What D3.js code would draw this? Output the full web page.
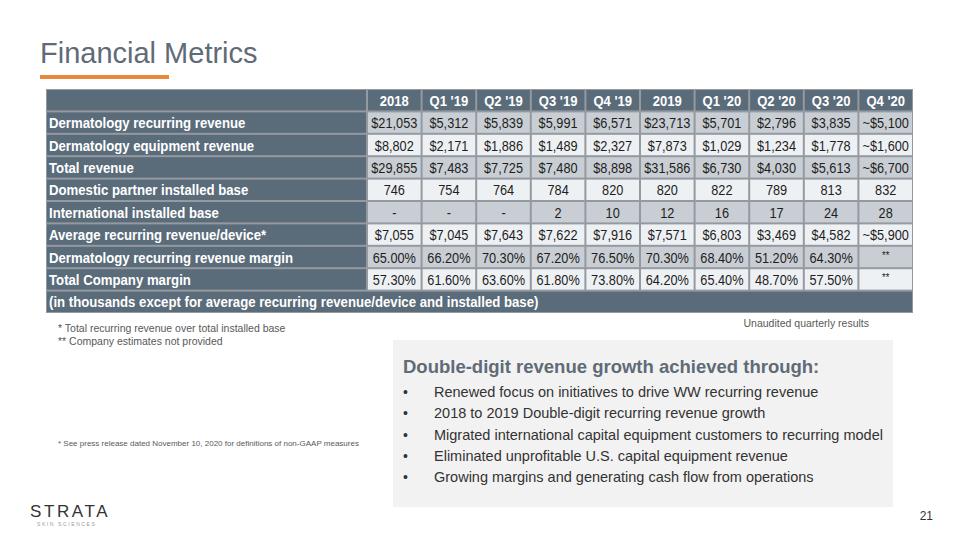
<!DOCTYPE html>
<html><head><meta charset="utf-8">
<script src="https://cdn.jsdelivr.net/npm/d3@7"></script>
<style>body{margin:0;background:#fff}svg{display:block}text{font-family:"Liberation Sans",Arial,sans-serif}</style>
</head><body>
<script>
const columns = ["2018","Q1 '19","Q2 '19","Q3 '19","Q4 '19","2019","Q1 '20","Q2 '20","Q3 '20","Q4 '20"];
const rowLabels = [
  "Dermatology recurring revenue",
  "Dermatology equipment revenue",
  "Total revenue",
  "Domestic partner installed base",
  "International installed base",
  "Average recurring revenue/device*",
  "Dermatology recurring revenue margin",
  "Total Company margin"
];
const recurringRevenue = ["$21,053","$5,312","$5,839","$5,991","$6,571","$23,713","$5,701","$2,796","$3,835","~$5,100"];
const equipmentRevenue = ["$8,802","$2,171","$1,886","$1,489","$2,327","$7,873","$1,029","$1,234","$1,778","~$1,600"];
const totalRevenue = ["$29,855","$7,483","$7,725","$7,480","$8,898","$31,586","$6,730","$4,030","$5,613","~$6,700"];
const domesticBase = ["746","754","764","784","820","820","822","789","813","832"];
const internationalBase = ["-","-","-","2","10","12","16","17","24","28"];
const avgRevenuePerDevice = ["$7,055","$7,045","$7,643","$7,622","$7,916","$7,571","$6,803","$3,469","$4,582","~$5,900"];
const recurringMargin = ["65.00%","66.20%","70.30%","67.20%","76.50%","70.30%","68.40%","51.20%","64.30%","**"];
const companyMargin = ["57.30%","61.60%","63.60%","61.80%","73.80%","64.20%","65.40%","48.70%","57.50%","**"];
const footerNote = "(in thousands except for average recurring revenue/device and installed base)";
const footnotes = ["* Total recurring revenue over total installed base","** Company estimates not provided"];
const bullets = [
  "Renewed focus on initiatives to drive WW recurring revenue",
  "2018 to 2019 Double-digit recurring revenue growth",
  "Migrated international capital equipment customers to recurring model",
  "Eliminated unprofitable U.S. capital equipment revenue",
  "Growing margins and generating cash flow from operations"
];
const tableRows = [recurringRevenue, equipmentRevenue, totalRevenue, domesticBase, internationalBase, avgRevenuePerDevice, recurringMargin, companyMargin];

const W = 960, H = 540;
const svg = d3.select("body").append("svg").attr("width", W).attr("height", H);

const DARK = "#5a6b7a", GRID = "#959aa0", LIGHT = "#c9ced4", PALE = "#eef1f4";

function narrowText(sel, cx, cy, sx) {
  return sel.attr("transform", `translate(${cx},${cy}) scale(${sx},1)`);
}

// title
svg.append("text").attr("x", 40).attr("y", 63).attr("font-size", 29).attr("fill", "#5f6b77").text("Financial Metrics");
svg.append("rect").attr("x", 40).attr("y", 75).attr("width", 129).attr("height", 4).attr("fill", "#e8893a");

// table scales
const tableLeft = 46, labelRight = 367, tableRight = 913, tableTop = 89, tableBottom = 313;
const rowKeys = d3.range(rowLabels.length + 2);
const y = d3.scaleBand().domain(rowKeys).range([tableTop, tableBottom]);
const x = d3.scaleBand().domain(columns).range([labelRight, tableRight]);
const g = 1;
const LBL_SX = 0.88, VAL_SX = 0.85;

svg.append("rect").attr("x", tableLeft).attr("y", tableTop).attr("width", tableRight - tableLeft).attr("height", tableBottom - tableTop).attr("fill", GRID);

// header row
svg.append("rect").attr("x", tableLeft + g).attr("y", y(0) + g).attr("width", labelRight - tableLeft - 2 * g).attr("height", y.bandwidth() - 2 * g).attr("fill", DARK);
svg.selectAll("rect.hdr").data(columns).join("rect").attr("class", "hdr")
  .attr("x", d => x(d) + g).attr("y", y(0) + g).attr("width", x.bandwidth() - 2 * g).attr("height", y.bandwidth() - 2 * g).attr("fill", DARK);
svg.selectAll("text.hdr").data(columns).join("text").attr("class", "hdr")
  .attr("transform", d => `translate(${x(d) + x.bandwidth() / 2},${y(0) + y.bandwidth() / 2 + 5.5}) scale(0.9,1)`)
  .attr("text-anchor", "middle").attr("font-size", 14.5).attr("font-weight", "bold").attr("fill", "#fff").text(d => d);

// data rows
tableRows.forEach((vals, i) => {
  const r = i + 1;
  svg.append("rect").attr("x", tableLeft + g).attr("y", y(r) + g).attr("width", labelRight - tableLeft - 2 * g).attr("height", y.bandwidth() - 2 * g).attr("fill", DARK);
  narrowText(svg.append("text"), 49, y(r) + y.bandwidth() / 2 + 5.5, LBL_SX)
    .attr("font-size", 15).attr("font-weight", "bold").attr("fill", "#fff").text(rowLabels[i]);
  const cells = columns.map((c, j) => ({c, v: vals[j]}));
  svg.selectAll("rect.r" + r).data(cells).join("rect").attr("class", "r" + r)
    .attr("x", d => x(d.c) + g).attr("y", y(r) + g).attr("width", x.bandwidth() - 2 * g).attr("height", y.bandwidth() - 2 * g)
    .attr("fill", i % 2 === 0 ? LIGHT : PALE);
  svg.selectAll("text.r" + r).data(cells).join("text").attr("class", "r" + r)
    .attr("transform", d => `translate(${x(d.c) + x.bandwidth() / 2},${y(r) + y.bandwidth() / 2 + (d.v === "**" ? 2 : 5.5)}) scale(${VAL_SX},1)`)
    .attr("text-anchor", "middle").attr("font-size", d => d.v === "**" ? 11 : 15).attr("fill", "#1e1e1e").text(d => d.v);
});

// footer row
const fr = rowLabels.length + 1;
svg.append("rect").attr("x", tableLeft + g).attr("y", y(fr) + g).attr("width", tableRight - tableLeft - 2 * g).attr("height", y.bandwidth() - 2 * g).attr("fill", DARK);
narrowText(svg.append("text"), 49, y(fr) + y.bandwidth() / 2 + 5.5, LBL_SX)
  .attr("font-size", 15).attr("font-weight", "bold").attr("fill", "#fff").text(footerNote);

// notes
svg.selectAll("text.fn").data(footnotes).join("text").attr("class", "fn")
  .attr("x", 58).attr("y", (d, i) => 332 + i * 13).attr("font-size", 10.5).attr("fill", "#595959").text(d => d);
svg.append("text").attr("x", 869).attr("y", 327).attr("text-anchor", "end").attr("font-size", 10.5).attr("fill", "#595959").text("Unaudited quarterly results");
svg.append("text").attr("x", 58).attr("y", 446).attr("font-size", 8).attr("fill", "#595959").text("* See press release dated November 10, 2020 for definitions of non-GAAP measures");

// callout box
svg.append("rect").attr("x", 393).attr("y", 340).attr("width", 500).attr("height", 167).attr("fill", "#f2f2f2");
svg.append("text").attr("x", 403).attr("y", 373).attr("font-size", 18.5).attr("font-weight", "bold").attr("fill", "#5f6b77").text("Double-digit revenue growth achieved through:");
const by = d3.scaleBand().domain(d3.range(bullets.length)).range([381, 488]);
svg.selectAll("text.bd").data(bullets).join("text").attr("class", "bd")
  .attr("x", 403).attr("y", (d, i) => by(i) + by.bandwidth() / 2 + 5).attr("font-size", 14).attr("fill", "#333").text("•");
svg.selectAll("text.bl").data(bullets).join("text").attr("class", "bl")
  .attr("x", 434).attr("y", (d, i) => by(i) + by.bandwidth() / 2 + 5).attr("font-size", 14.5).attr("fill", "#333").text(d => d);

// page number and logo
svg.append("text").attr("x", 933).attr("y", 520).attr("text-anchor", "end").attr("font-size", 12).attr("fill", "#333").text("21");
svg.append("text").attr("x", 30).attr("y", 517).attr("font-size", 17).attr("letter-spacing", 2.6).attr("font-weight", 300).attr("font-family", "Lato, 'Open Sans', sans-serif").attr("fill", "#333").text("STRATA");
svg.append("text").attr("x", 37).attr("y", 526).attr("font-size", 5).attr("letter-spacing", 1.6).attr("fill", "#9a9a9a").text("SKIN SCIENCES");
</script>
</body></html>
